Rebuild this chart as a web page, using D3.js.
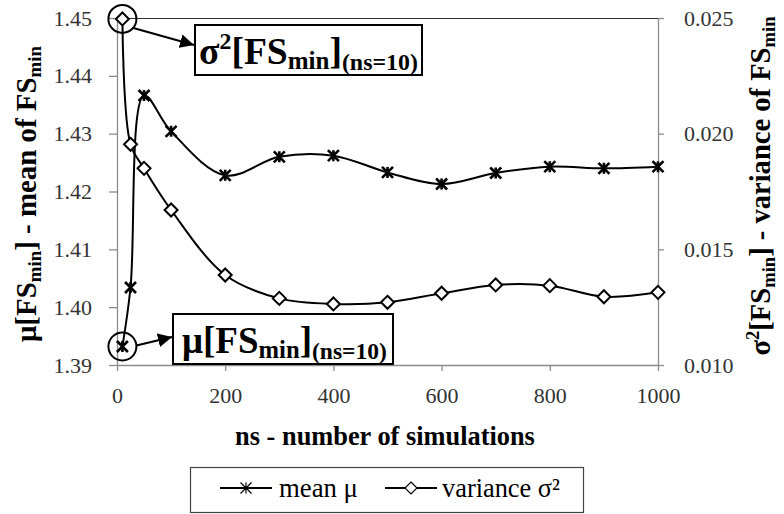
<!DOCTYPE html>
<html>
<head>
<meta charset="utf-8">
<script src="https://cdn.jsdelivr.net/npm/d3@7/dist/d3.min.js"></script>
<style>
  html, body { margin: 0; padding: 0; background: #fff; }
  svg, svg text { font-family: "Liberation Serif", "DejaVu Serif", Tinos, "Times New Roman", serif; }
</style>
</head>
<body>
<svg id="chart" width="784" height="514"></svg>
<script>
// Number of simulations and the two statistics of the minimum factor of safety
const nsValues = [10, 25, 50, 100, 200, 300, 400, 500, 600, 700, 800, 900, 1000];
const meanValues = [1.3932, 1.4034, 1.4366, 1.4304, 1.4228, 1.4260, 1.4262, 1.4233, 1.4213, 1.4232, 1.4243, 1.4240, 1.4243];
const varianceValues = [0.02496, 0.01954, 0.0185, 0.0167, 0.01389, 0.01288, 0.01264, 0.01271, 0.0131, 0.01346, 0.01343, 0.01295, 0.01314];

// Tick labels
const xTicks = [0, 200, 400, 600, 800, 1000];
const meanTicks = [1.39, 1.40, 1.41, 1.42, 1.43, 1.44, 1.45];
const varianceTicks = [0.010, 0.015, 0.020, 0.025];

const FONT = '"Liberation Serif", "DejaVu Serif", Tinos, "Times New Roman", serif';

const svg = d3.select("#chart");
const plot = { left: 117, right: 658, top: 18, bottom: 365 };

const x = d3.scaleLinear().domain([0, 1000]).range([plot.left, plot.right]);
const yMean = d3.scaleLinear().domain([1.39, 1.45]).range([plot.bottom, plot.top]);
const yVar = d3.scaleLinear().domain([0.010, 0.025]).range([plot.bottom, plot.top]);

// Scale a text group so its run length equals the given width
function fitGroup(g, text, width, baseTransform) {
  const w = text.node().getBBox().width;
  const k = width / w;
  g.attr("transform", `${baseTransform} scale(${k})`);
}

// Top border of the plot area
svg.append("line")
  .attr("x1", plot.left).attr("x2", plot.right)
  .attr("y1", plot.top + 0.5).attr("y2", plot.top + 0.5)
  .attr("stroke", "#333").attr("stroke-width", 1.2);

function styleAxis(g) {
  g.attr("font-family", FONT);
  g.select(".domain").attr("stroke", "#8c8c8c").attr("stroke-width", 1.3);
  g.selectAll(".tick line").attr("stroke", "#8c8c8c").attr("stroke-width", 1.3);
  g.selectAll(".tick text")
    .attr("fill", "#333")
    .attr("font-family", FONT)
    .style("font-size", "22px");
}

svg.append("g")
  .attr("transform", `translate(0,${plot.bottom})`)
  .call(d3.axisBottom(x).tickValues(xTicks).tickFormat(d3.format("d")).tickSize(6).tickSizeOuter(0).tickPadding(16))
  .call(styleAxis);

svg.append("g")
  .attr("transform", `translate(${plot.left},0)`)
  .call(d3.axisLeft(yMean).tickValues(meanTicks).tickFormat(d3.format(".2f")).tickSize(8).tickSizeOuter(0).tickPadding(17))
  .call(styleAxis);

svg.append("g")
  .attr("transform", `translate(${plot.right},0)`)
  .call(d3.axisRight(yVar).tickValues(varianceTicks).tickFormat(d3.format(".3f")).tickSize(6).tickSizeOuter(0).tickPadding(20))
  .call(styleAxis);

// Smoothed series lines
const meanLine = d3.line().x((d, i) => x(nsValues[i])).y(d => yMean(d)).curve(d3.curveCatmullRom.alpha(0.5));
const varLine = d3.line().x((d, i) => x(nsValues[i])).y(d => yVar(d)).curve(d3.curveCatmullRom.alpha(0.5));

svg.append("path").datum(meanValues).attr("d", meanLine)
  .attr("fill", "none").attr("stroke", "#000").attr("stroke-width", 2);
svg.append("path").datum(varianceValues).attr("d", varLine)
  .attr("fill", "none").attr("stroke", "#000").attr("stroke-width", 2);

// Marker shapes
function starPath(s) {
  const h = s / 2;
  return `M${-h},${-h}L${h},${h}M${-h},${h}L${h},${-h}M0,${-h}L0,${h}`;
}
function diamondPath(s) {
  const h = s / 2;
  return `M0,${-h}L${h},0L0,${h}L${-h},0Z`;
}

svg.append("g").selectAll("path").data(meanValues).join("path")
  .attr("transform", (d, i) => `translate(${x(nsValues[i])},${yMean(d)})`)
  .attr("d", starPath(11))
  .attr("fill", "none").attr("stroke", "#000").attr("stroke-width", 2.6);

svg.append("g").selectAll("path").data(varianceValues).join("path")
  .attr("transform", (d, i) => `translate(${x(nsValues[i])},${yVar(d)})`)
  .attr("d", diamondPath(13))
  .attr("fill", "#fff").attr("stroke", "#000").attr("stroke-width", 2);

// Arrow head marker
svg.append("defs").append("marker")
  .attr("id", "arrowhead")
  .attr("viewBox", "0 0 10 10")
  .attr("refX", 10).attr("refY", 5)
  .attr("markerWidth", 7).attr("markerHeight", 7)
  .attr("markerUnits", "strokeWidth")
  .attr("orient", "auto")
  .append("path").attr("d", "M0,0L10,5L0,10Z").attr("fill", "#000");

// Callouts for the first (ns = 10) values
function callout(cx, cy, box, arrowFrom, arrowTo, lead, sup) {
  svg.append("circle").attr("cx", cx).attr("cy", cy).attr("r", 14)
    .attr("fill", "none").attr("stroke", "#000").attr("stroke-width", 2);
  svg.append("line")
    .attr("x1", arrowFrom[0]).attr("y1", arrowFrom[1])
    .attr("x2", arrowTo[0]).attr("y2", arrowTo[1])
    .attr("stroke", "#000").attr("stroke-width", 2)
    .attr("marker-end", "url(#arrowhead)");
  svg.append("rect").attr("x", box.x).attr("y", box.y).attr("width", box.w).attr("height", box.h)
    .attr("fill", "#fff").attr("stroke", "#000").attr("stroke-width", 2);
  const g = svg.append("g");
  const t = g.append("text")
    .attr("x", 0).attr("y", 0)
    .attr("font-family", FONT)
    .attr("font-weight", "bold").attr("fill", "#000");
  t.append("tspan").style("font-size", "33px").text(lead);
  if (sup) t.append("tspan").style("font-size", "21px").attr("dy", -13).text(sup);
  t.append("tspan").style("font-size", "33px").attr("dy", sup ? 13 : 0).text("[FS");
  t.append("tspan").style("font-size", "22px").attr("dy", 4).text("min");
  t.append("tspan").style("font-size", "33px").attr("dy", -4).text("]");
  t.append("tspan").style("font-size", "21px").attr("dy", 5).text("(ns=10)");
  fitGroup(g, t, box.textW, `translate(${box.textX},${box.base})`);
}

{
  const cx = x(nsValues[0]), cy = yVar(varianceValues[0]);
  callout(cx, cy, { x: 195, y: 25, w: 227, h: 50, textX: 199, textW: 219, base: 64 },
    [cx + 11, cy + 9], [194, 45], "σ", "2");
}
{
  const cx = x(nsValues[0]), cy = yMean(meanValues[0]);
  callout(cx, cy, { x: 173, y: 314, w: 220, h: 50, textX: 182, textW: 205, base: 353 },
    [cx + 14, cy - 1], [172, 337], "μ", null);
}

// Axis titles
function subTitle(t, parts) {
  parts.forEach(p => {
    const s = t.append("tspan").text(p.t);
    if (p.sub) s.attr("dy", 4).style("font-size", "15px");
    else if (p.back) s.attr("dy", -4);
    if (p.sup) s.attr("dy", -9).style("font-size", "15px");
    if (p.afterSup) s.attr("dy", 9);
  });
}

const leftG = svg.append("g");
const leftTitle = leftG.append("text")
  .attr("text-anchor", "middle")
  .attr("font-family", FONT)
  .attr("font-weight", "bold").style("font-size", "23px").attr("fill", "#000");
subTitle(leftTitle, [
  { t: "μ[FS" }, { t: "min", sub: true }, { t: "] - mean of  FS", back: true }, { t: "min", sub: true }
]);
fitGroup(leftG, leftTitle, 297, "translate(36,194) rotate(-90)");

const rightG = svg.append("g");
const rightTitle = rightG.append("text")
  .attr("text-anchor", "middle")
  .attr("font-family", FONT)
  .attr("font-weight", "bold").style("font-size", "23px").attr("fill", "#000");
subTitle(rightTitle, [
  { t: "σ" }, { t: "2", sup: true }, { t: "[FS", afterSup: true }, { t: "min", sub: true },
  { t: "] - variance of  FS", back: true }, { t: "min", sub: true }
]);
fitGroup(rightG, rightTitle, 340, "translate(770,186) rotate(-90)");

const xTitleG = svg.append("g");
const xTitle = xTitleG.append("text")
  .attr("text-anchor", "middle")
  .attr("font-family", FONT)
  .attr("font-weight", "bold").style("font-size", "24px").attr("fill", "#000")
  .text("ns - number  of simulations");
fitGroup(xTitleG, xTitle, 300, "translate(385,445)");

// Legend
const legend = svg.append("g").attr("font-family", FONT);
legend.append("rect").attr("x", 190.5).attr("y", 467.5).attr("width", 393).attr("height", 45)
  .attr("fill", "#fff").attr("stroke", "#444").attr("stroke-width", 1.2);

const legendItems = [
  { label: "mean μ", shape: starPath(11), x0: 220, textX: 279, textW: 79 },
  { label: "variance σ²", shape: diamondPath(12), x0: 385, textX: 442, textW: 118 }
];
legendItems.forEach(it => {
  legend.append("line").attr("x1", it.x0).attr("x2", it.x0 + 52)
    .attr("y1", 488).attr("y2", 488).attr("stroke", "#000").attr("stroke-width", 2);
  legend.append("path").attr("d", it.shape)
    .attr("transform", `translate(${it.x0 + 26},488)`)
    .attr("fill", "#fff").attr("stroke", "#000").attr("stroke-width", 1.2);
  const g = legend.append("g");
  const t = g.append("text")
    .attr("font-family", FONT)
    .style("font-size", "24px").attr("fill", "#000").text(it.label);
  fitGroup(g, t, it.textW, `translate(${it.textX},497)`);
});
</script>
</body>
</html>
